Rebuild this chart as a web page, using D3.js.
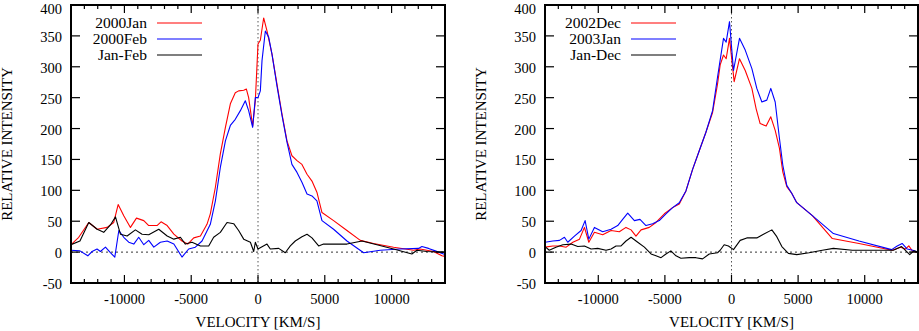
<!DOCTYPE html>
<html>
<head>
<meta charset="utf-8">
<script src="https://cdn.jsdelivr.net/npm/d3@7"></script>
<style>
  body { margin: 0; background: #fff; }
  svg text { font-family: "Liberation Serif", "Times New Roman", serif; font-size: 14.5px; fill: #000; }
  svg text.title { font-size: 15px; }
  svg text.legend { font-size: 15.5px; }
</style>
</head>
<body>
<svg id="chart" width="919" height="331"></svg>
<script>
// velocity [km/s], relative intensity
var jan2000 = [[-14000,12],[-13420,24],[-12670,48],[-12040,37],[-11300,40],[-10800,48],[-10470,77],[-10050,59],
  [-9550,40],[-9100,55],[-8550,51],[-8180,43],[-7560,43],[-7260,49],[-6800,43],[-6300,29],[-5690,18],[-5260,13],
  [-4810,23],[-4310,26],[-3820,45],[-3570,62],[-3190,105],[-2820,159],[-2440,202],[-2070,240],[-1700,258],
  [-1450,261],[-1070,262],[-870,264],[-700,250],[-400,204],[-200,245],[0,337],[175,343],[424,379],[673,358],
  [1050,320],[1420,272],[1800,223],[2170,180],[2540,156],[2920,148],[3290,142],[3670,126],[4040,115],[4410,97],
  [4790,64],[5660,51],[6660,35],[7660,19],[8650,14],[10150,8],[11650,3],[12140,5],[13140,1],[13770,-6],[14000,-7]];
var feb2000 = [[-14000,3],[-13330,2],[-12740,-6],[-12420,1],[-12050,5],[-11800,1],[-11420,8],[-11050,-1],
  [-10720,-8],[-10420,35],[-10050,24],[-9680,16],[-9300,13],[-8930,24],[-8550,12],[-8180,19],[-7800,8],
  [-7310,16],[-6800,18],[-6300,13],[-5690,-8],[-5190,5],[-4690,8],[-4190,18],[-3570,45],[-3190,83],[-2820,137],
  [-2440,180],[-2070,205],[-1700,215],[-1320,229],[-950,245],[-700,229],[-400,202],[-200,250],[0,250],[175,261],
  [300,310],[550,358],[800,348],[1050,320],[1420,269],[1800,221],[2170,178],[2540,142],[2920,129],[3290,113],
  [3670,94],[4040,91],[4410,83],[4790,51],[5660,37],[6660,18],[7910,-1],[9150,3],[10650,5],[12020,6],[12270,9],
  [12770,6],[13270,2],[13890,-3],[14000,-4]];
var janFeb = [[-14000,12],[-13330,18],[-12670,48],[-12040,37],[-11550,32],[-11050,44],[-10670,57],[-10300,29],
  [-9800,26],[-9180,36],[-8680,29],[-8180,28],[-7430,37],[-6800,26],[-6300,21],[-5810,24],[-5440,13],[-4940,16],
  [-4310,10],[-3690,10],[-3320,24],[-2820,32],[-2320,48],[-1820,46],[-1450,35],[-1070,21],[-570,16],[-320,1],
  [-200,16],[0,5],[673,13],[920,5],[1550,6],[2040,-1],[2420,10],[2790,18],[3290,25],[3670,29],[4040,23],
  [4540,10],[4910,13],[6660,13],[7790,18],[8900,12],[10150,5],[11520,-3],[11900,3],[12640,1],[13890,0],[14000,0]];

var dec2002 = [[-14000,8],[-13410,10],[-12910,10],[-12410,8],[-11910,16],[-11410,21],[-11040,40],[-10710,16],
  [-10290,32],[-9670,28],[-9040,35],[-8420,33],[-7920,40],[-7540,36],[-7170,26],[-6790,36],[-6170,40],[-5670,48],
  [-5040,62],[-4420,72],[-3920,78],[-3420,99],[-2920,134],[-2420,164],[-1920,194],[-1420,226],[-1050,272],
  [-850,303],[-600,319],[-400,313],[-150,346],[200,276],[600,313],[1030,294],[1530,265],[1850,232],[2150,208],
  [2600,204],[2950,219],[3280,197],[3600,168],[3850,130],[4150,106],[4530,95],[4900,80],
  [6070,59],[7570,22],[9570,14],[12060,3],[12690,8],[13060,5],[13310,10],[13610,1],[14000,0]];
var jan2003 = [[-14000,16],[-13410,18],[-12910,19],[-12540,24],[-12290,16],[-11790,26],[-11290,35],[-10990,51],
  [-10710,21],[-10290,40],[-9670,33],[-9040,37],[-8540,43],[-8170,53],[-7790,63],[-7290,51],[-6870,53],
  [-6420,43],[-5920,46],[-5420,51],[-4920,62],[-4420,72],[-3920,80],[-3420,99],[-2920,134],[-2420,164],
  [-1920,194],[-1420,229],[-1050,283],[-600,346],[-400,340],[-150,373],[150,294],[600,346],[1030,327],
  [1530,297],[1900,265],[2280,243],[2650,246],[2950,265],[3280,243],[3600,184],[3850,141],[4150,108],[4530,95],
  [4900,80],[6070,59],[7650,30],[9570,18],[12020,4],[12440,10],[12810,14],[13190,5],[13610,3],[14000,0]];
var janDec = [[-14000,9],[-13680,3],[-13180,8],[-12660,12],[-12040,13],[-11540,9],[-11040,10],[-10540,5],
  [-10040,6],[-9420,3],[-9040,5],[-8670,10],[-8290,10],[-7920,18],[-7540,24],[-7040,16],[-6540,8],[-6040,-3],
  [-5670,-6],[-5290,-9],[-4920,-3],[-4550,2],[-4170,-6],[-3800,-10],[-3170,-9],[-2670,-9],[-2170,-11],
  [-1670,-3],[-1050,-1],[-850,3],[-550,12],[-230,10],[150,4],[650,19],[1150,23],[1900,23],[2400,29],
  [3030,36],[3400,25],[3780,9],[4270,-2],[4900,-4],[5820,-1],[6820,3],[7650,6],[9070,3],
  [11150,3],[12150,3],[12770,9],[13380,-4],[13690,2],[14000,0]];

var xTicks = [-10000, -5000, 0, 5000, 10000];
var yTicks = [-50, 0, 50, 100, 150, 200, 250, 300, 350, 400];

var svg = d3.select("#chart");

function drawPanel(left, right, series, labels, colors, id) {
    var top = 5, bottom = 283;
    var x = d3.scaleLinear().domain([-14000, 14000]).range([left, right]);
    var y = d3.scaleLinear().domain([-50, 400]).range([bottom, top]);
    var g = svg.append("g");

    g.append("clipPath").attr("id", id)
        .append("rect")
        .attr("x", left).attr("y", top)
        .attr("width", right - left).attr("height", bottom - top);

    // zero lines
    g.append("line")
        .attr("x1", left).attr("x2", right)
        .attr("y1", y(0)).attr("y2", y(0))
        .attr("stroke", "#000").attr("stroke-width", 0.8)
        .attr("stroke-dasharray", "2,3");
    g.append("line")
        .attr("x1", x(0)).attr("x2", x(0))
        .attr("y1", top).attr("y2", bottom)
        .attr("stroke", "#555").attr("stroke-width", 1)
        .attr("stroke-dasharray", "1.5,2.5");

    var line = d3.line()
        .x(function(d) { return x(d[0]); })
        .y(function(d) { return y(d[1]); });

    series.forEach(function(s, i) {
        g.append("path")
            .datum(s)
            .attr("clip-path", "url(#" + id + ")")
            .attr("d", line)
            .attr("fill", "none")
            .attr("stroke", colors[i])
            .attr("stroke-width", 1.1)
            .attr("stroke-linejoin", "round");
    });

    // x ticks, minor every 1000 both top and bottom
    var minor = d3.range(-13000, 14000, 1000);
    minor.forEach(function(v) {
        var len = (v % 5000 === 0) ? 8 : 4;
        g.append("line").attr("x1", x(v)).attr("x2", x(v))
            .attr("y1", bottom).attr("y2", bottom - len)
            .attr("stroke", "#000").attr("stroke-width", 1.2);
        g.append("line").attr("x1", x(v)).attr("x2", x(v))
            .attr("y1", top).attr("y2", top + len)
            .attr("stroke", "#000").attr("stroke-width", 1.2);
    });
    yTicks.forEach(function(v) {
        g.append("line").attr("x1", left).attr("x2", left + 9)
            .attr("y1", y(v)).attr("y2", y(v))
            .attr("stroke", "#000").attr("stroke-width", 1.2);
        g.append("line").attr("x1", right).attr("x2", right - 9)
            .attr("y1", y(v)).attr("y2", y(v))
            .attr("stroke", "#000").attr("stroke-width", 1.2);
    });

    g.selectAll(".xl").data(xTicks).enter().append("text")
        .attr("x", function(d) { return x(d); })
        .attr("y", 304)
        .attr("text-anchor", "middle")
        .text(function(d) { return d; });
    // top label pushed down a little so it stays inside the page
    g.selectAll(".yl").data(yTicks).enter().append("text")
        .attr("x", left - 9)
        .attr("y", function(d) { return Math.max(y(d) + 6, 13.5); })
        .attr("text-anchor", "end")
        .text(function(d) { return d; });

    // border
    g.append("rect")
        .attr("x", left).attr("y", top)
        .attr("width", right - left).attr("height", bottom - top)
        .attr("fill", "none").attr("stroke", "#000").attr("stroke-width", 2);

    g.append("text").attr("class", "title")
        .attr("x", (left + right) / 2).attr("y", 327)
        .attr("text-anchor", "middle")
        .text("VELOCITY [KM/S]");
    g.append("text").attr("class", "title")
        .attr("transform", "translate(" + (left - 59) + "," + ((top + bottom) / 2) + ")rotate(-90)")
        .attr("text-anchor", "middle")
        .text("RELATIVE INTENSITY");

    // legend
    labels.forEach(function(l, i) {
        var ly = 23 + i * 16;
        g.append("text").attr("class", "legend")
            .attr("x", left + 76).attr("y", ly + 5)
            .attr("text-anchor", "end").text(l);
        g.append("line").attr("x1", left + 86).attr("x2", left + 131)
            .attr("y1", ly).attr("y2", ly)
            .attr("stroke", colors[i]).attr("stroke-width", 1.1);
    });
}

drawPanel(71, 445, [jan2000, feb2000, janFeb], ["2000Jan", "2000Feb", "Jan-Feb"], ["#ff0000", "#0000ff", "#000000"], "clipA");
drawPanel(545, 918, [dec2002, jan2003, janDec], ["2002Dec", "2003Jan", "Jan-Dec"], ["#ff0000", "#0000ff", "#000000"], "clipB");
</script>
</body>
</html>
